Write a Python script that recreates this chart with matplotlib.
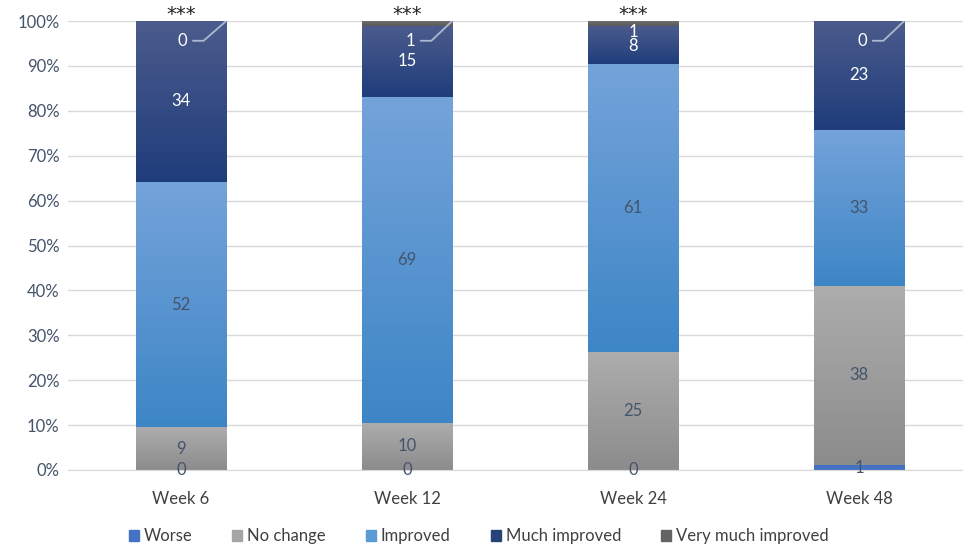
import numpy as np
import matplotlib
matplotlib.use("Agg")
import matplotlib.pyplot as plt
from matplotlib.colors import LinearSegmentedColormap
from matplotlib.patches import Patch

plt.rcParams['font.family'] = ['Lato', 'DejaVu Sans']

weeks = ["Week 6", "Week 12", "Week 24", "Week 48"]
series = ["Worse", "No change", "Improved", "Much improved", "Very much improved"]
worse = [0, 0, 0, 1]
no_change = [9, 10, 25, 38]
improved = [52, 69, 61, 33]
much_improved = [34, 15, 8, 23]
very_much = [0, 1, 1, 0]
stars = ["***", "***", "***", ""]

# (top colour, bottom colour) for each series gradient
grads = [("#4472C4", "#4472C4"),
         ("#ADADAD", "#8C8C8C"),
         ("#74A3DA", "#3D86C6"),
         ("#4B5B8C", "#1F3D7B"),
         ("#6E6E6E", "#5A5A5A")]
legend_colors = ["#4472C4", "#A5A5A5", "#5B9BD5", "#264478", "#636363"]
label_colors = ["#44546A", "#44546A", "#44546A", "white", "white"]
slate = "#44546A"

counts = np.array([worse, no_change, improved, much_improved, very_much], dtype=float)
pct = counts / counts.sum(axis=0) * 100

fig = plt.figure(figsize=(9.63, 5.46), dpi=100)
ax = fig.add_axes([68 / 963, 76 / 546, 904 / 963, 449 / 546])

x = np.arange(len(weeks))
width = 0.4
bottom = np.zeros(len(weeks))
for i, name in enumerate(series):
    bars = ax.bar(x, pct[i], width, bottom=bottom, color=grads[i][1], linewidth=0, zorder=2)
    cmap = LinearSegmentedColormap.from_list(name, [grads[i][0], grads[i][1]])
    for j, b in enumerate(bars):
        if pct[i][j] <= 0:
            continue
        im = ax.imshow(np.linspace(0, 1, 100).reshape(-1, 1), cmap=cmap, aspect='auto',
                       extent=[x[j] - width / 2, x[j] + width / 2, bottom[j], bottom[j] + pct[i][j]],
                       origin='upper', zorder=2.5)
        im.set_clip_path(b)
    # labels
    for j in range(len(weeks)):
        val = int(counts[i][j])
        yc = bottom[j] + pct[i][j] / 2
        if i == 4:
            if j == 2:
                ax.text(x[j], 97.6, str(val), color="white", ha='center', va='center', fontsize=12, zorder=4)
            else:
                dx = 0.005 if j == 0 else 0.013
                ax.text(x[j] + dx, 95.6, str(val), color="white", ha='center', va='center', fontsize=12, zorder=4)
                ax.plot([x[j] + dx + 0.045, x[j] + dx + 0.095, x[j] + width / 2],
                        [95.6, 95.6, 100], color="#AEB9CF", lw=1.3, zorder=4, solid_capstyle='butt')
        elif i == 3 and j == 2:
            ax.text(x[j], 94.4, str(val), color=label_colors[i], ha='center', va='center', fontsize=12, zorder=4)
        else:
            ax.text(x[j], yc, str(val), color=label_colors[i], ha='center', va='center', fontsize=12, zorder=4)
    bottom += pct[i]

for j, s in enumerate(stars):
    if s:
        ax.text(x[j], 101.5, s, ha='center', va='center', fontsize=14, color="#222222",
                family='DejaVu Sans', clip_on=False)

ax.set_xlim(-0.5, 3.5)
ax.set_ylim(0, 100)
ax.set_yticks(np.arange(0, 101, 10))
ax.set_yticklabels([f"{v}%" for v in range(0, 101, 10)])
ax.set_xticks(x)
ax.set_xticklabels(weeks)
ax.tick_params(axis='both', length=0, labelsize=12, colors="#595959", pad=6)
ax.tick_params(axis='y', labelcolor=slate)
ax.tick_params(axis='x', labelcolor="#404040", pad=15)
ax.grid(axis='y', color="#D9D9D9", lw=1, zorder=0)
ax.set_axisbelow(True)
for s in ["top", "right", "left"]:
    ax.spines[s].set_visible(False)
ax.spines["bottom"].set_color("#D9D9D9")

handles = [Patch(color=c) for c in legend_colors]
fig.legend(handles, series, loc='lower center', bbox_to_anchor=(0.497, -0.024), ncol=5, frameon=False,
           fontsize=12, handlelength=0.6, handleheight=0.6, handletextpad=0.3, columnspacing=2.4,
           labelcolor="#404040")

fig.savefig("out.png", dpi=100)
